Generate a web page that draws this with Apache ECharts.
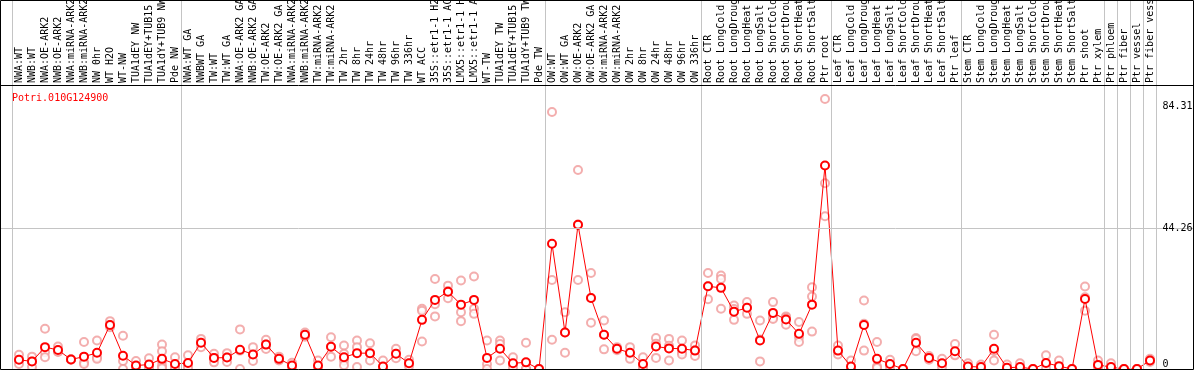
<!DOCTYPE html>
<html>
<head>
<meta charset="utf-8">
<script src="https://cdn.jsdelivr.net/npm/echarts@6/dist/echarts.min.js"></script>
<style>
html, body { margin: 0; padding: 0; background: #fff; }
#chart { width: 1194px; height: 370px; }
</style>
</head>
<body>
<div id="chart"></div>
<script>
// gene id shown top-left
var geneName = 'Potri.010G124900';

var categories = [
    'NWA:WT', 'NWB:WT', 'NWA:OE-ARK2', 'NWB:OE-ARK2', 'NWA:miRNA-ARK2', 'NWB:miRNA-ARK2',
    'NW 0hr', 'WT H2O', 'WT-NW', 'TUA1dEY NW', 'TUA1dEY+TUB15 NW', 'TUA1dY+TUB9 NW', 'Pde NW',
    'NWA:WT GA', 'NWBWT GA', 'TW:WT', 'TW:WT GA', 'NWA:OE-ARK2 GA', 'NWB:OE-ARK2 GA',
    'TW:OE-ARK2', 'TW:OE-ARK2 GA', 'NWA:miRNA-ARK2', 'NWB:miRNA-ARK2', 'TW:miRNA-ARK2',
    'TW:miRNA-ARK2', 'TW 2hr', 'TW 8hr', 'TW 24hr', 'TW 48hr', 'TW 96hr', 'TW 336hr',
    'WT ACC', '35S::etr1-1 H2O', '35S::etr1-1 ACC', 'LMX5::etr1-1 H2O', 'LMX5::etr1-1 ACC',
    'WT-TW', 'TUA1dEY TW', 'TUA1dEY+TUB15 TW', 'TUA1dY+TUB9 TW', 'Pde TW',
    'OW:WT', 'OW:WT GA', 'OW:OE-ARK2', 'OW:OE-ARK2 GA', 'OW:miRNA-ARK2', 'OW:miRNA-ARK2',
    'OW 2hr', 'OW 8hr', 'OW 24hr', 'OW 48hr', 'OW 96hr', 'OW 336hr',
    'Root CTR', 'Root LongCold', 'Root LongDrought', 'Root LongHeat', 'Root LongSalt',
    'Root ShortCold', 'Root ShortDrought', 'Root ShortHeat', 'Root ShortSalt', 'Ptr root',
    'Leaf CTR', 'Leaf LongCold', 'Leaf LongDrought', 'Leaf LongHeat', 'Leaf LongSalt',
    'Leaf ShortCold', 'Leaf ShortDrought', 'Leaf ShortHeat', 'Leaf ShortSalt', 'Ptr leaf',
    'Stem CTR', 'Stem LongCold', 'Stem LongDrought', 'Stem LongHeat', 'Stem LongSalt',
    'Stem ShortCold', 'Stem ShortDrought', 'Stem ShortHeat', 'Stem ShortSalt', 'Ptr shoot',
    'Ptr xylem', 'Ptr phloem', 'Ptr fiber', 'Ptr vessel', 'Ptr fiber vessel'
];

var meanValues = [
    2.9, 2.4, 6.9, 6.0, 3.0, 3.9, 5.1, 13.9, 4.2, 1.1, 1.4, 3.2, 1.6,
    1.9, 8.3, 3.5, 3.6, 6.1, 4.6, 7.7, 3.2, 1.1, 10.8, 1.1, 7.0, 3.7, 5.0, 5.0, 0.8,
    4.8, 1.8, 15.5, 21.8, 24.4, 20.3, 21.8, 3.5, 6.4, 1.8, 2.1, 0,
    39.5, 11.5, 45.5, 22.4, 10.8, 6.4, 5.1, 1.6, 7.1, 6.5, 6.4, 5.8,
    26.1, 25.6, 18.1, 19.3, 9.0, 17.7, 15.6, 11.1, 20.3, 64.2,
    5.8, 0.8, 13.9, 3.2, 1.6, 0, 8.3, 3.5, 1.8, 5.6,
    0.8, 0.6, 6.4, 0.4, 0.6, 0, 1.9, 0.9, 0, 22.1,
    1.3, 0.6, 0, 0, 2.7
];

var replicateValues = [
    [4.5, 2.9, 1.6], [3.9, 2.4, 0.6], [12.7, 5.3, 3.7], [7.1, 5.5, 5.4], [3.1, 3.0, 2.9],
    [8.5, 2.1, 1.6], [9.0, 3.7, 3.2], [15.1, 13.9, 13.2], [10.5, 2.5, 0], [2.5, 0.6, 0.2],
    [3.4, 0.6, 0.3], [7.7, 5.6, 2.5, 1.0, 0.2], [3.7, 0.8, 0.4],
    [4.3, 1.2, 0.2], [9.5, 8.3, 6.9], [4.8, 3.5, 2.1], [5.0, 3.6, 2.2], [12.5, 5.8, 0],
    [6.9, 4.5, 2.5], [9.2, 7.7, 6.3], [3.9, 3.0, 2.7], [2.0, 0.9, 0.4], [11.5, 10.8, 10.2],
    [2.7, 0.6, 0], [10.0, 7.0, 3.9], [7.4, 4.8, 2.6, 1.2], [9.0, 6.9, 0.6], [8.1, 5.0, 2.7],
    [2.7, 0.3, 0], [6.4, 4.8, 3.4], [2.9, 1.7, 0.9], [19.0, 18.4, 8.7], [28.4, 20.4, 16.6],
    [26.3, 24.6, 22.3], [27.9, 17.9, 15.1], [29.2, 19.0, 17.4], [9.0, 1.5, 0], [9.0, 7.9, 2.7],
    [3.7, 1.4, 0.4], [8.3, 0, 0, 0], [0, 0, 0],
    [81.1, 28.1, 9.2], [17.9, 11.5, 5.1], [62.8, 45.6, 28.1], [30.3, 22.4, 14.6],
    [15.3, 10.8, 6.2], [6.9, 6.4, 5.9], [6.9, 4.8, 3.2], [3.7, 0.8, 0.3], [9.8, 8.0, 3.5],
    [9.5, 7.3, 2.7], [9.0, 5.3, 4.6], [7.4, 5.9, 4.1],
    [30.3, 26.1, 22.0], [29.5, 28.4, 19.0], [20.0, 18.9, 15.5], [21.1, 19.3, 17.4],
    [15.3, 9.3, 2.4], [21.1, 16.2, 15.8], [16.6, 16.2, 14.0], [14.8, 10.0, 8.5],
    [25.8, 22.9, 11.8], [85.2, 58.6, 48.2],
    [7.4, 5.6, 4.6], [2.7, 0, 0], [21.6, 14.3, 5.8], [8.5, 0.8, 0.3], [2.9, 1.4, 0.5],
    [0, 0, 0], [9.8, 9.5, 5.6], [4.1, 3.5, 2.9], [3.2, 1.6, 0.6], [7.9, 4.6, 4.3],
    [1.8, 0.6, 0], [1.4, 0.4, 0], [10.8, 5.7, 2.7], [1.4, 0, 0], [1.8, 0, 0],
    [0, 0, 0], [4.3, 1.4, 0], [2.7, 0, 0], [0, 0, 0], [26.0, 22.6, 18.4],
    [2.7, 1.0, 0.3], [1.8, 0, 0], [0, 0, 0], [0, 0, 0], [3.2, 2.7, 2.2]
];

// category index where each sample group starts (plus the end)
var groupBreaks = [0, 13, 41, 53, 63, 73, 84, 85, 86, 87, 88];

var yTickValues = [0, 44.26, 84.31];
var yMax = 89.6;

var monoFont = 'DejaVu Sans Mono';

var replicatePoints = [];
replicateValues.forEach(function (vals, i) {
    vals.forEach(function (v) {
        replicatePoints.push([i, v]);
    });
});

var dom = document.getElementById('chart');
var myChart = echarts.init(dom, null, { renderer: 'canvas' });

var gridBase = { outerBoundsMode: 'none', containLabel: false };

var option = {
    backgroundColor: '#FFFFFF',
    animation: false,
    title: {
        text: geneName,
        left: 7,
        top: 88,
        textStyle: {
            color: '#ff0000',
            fontFamily: monoFont,
            fontSize: 10,
            fontWeight: 'normal'
        }
    },
    grid: [
        Object.assign({ left: 12.5, width: 1144, top: 85, height: 284 }, gridBase),
        Object.assign({ left: 12.5, width: 1144, top: 0, height: 369 }, gridBase),
        Object.assign({ left: 0, width: 1194, top: 85, height: 284 }, gridBase)
    ],
    xAxis: [{
            type: 'category',
            gridIndex: 0,
            position: 'top',
            data: categories,
            boundaryGap: true,
            axisLine: { show: false },
            axisTick: { show: false },
            splitLine: { show: false },
            axisLabel: {
                interval: 0,
                rotate: 90,
                margin: 2,
                color: '#000',
                fontFamily: monoFont,
                fontSize: 10
            }
        },
        {
            type: 'value',
            gridIndex: 1,
            min: 0,
            max: categories.length,
            show: false
        },
        {
            type: 'value',
            gridIndex: 2,
            min: 0,
            max: 1,
            show: false
        }
    ],
    yAxis: [{
            type: 'value',
            gridIndex: 0,
            min: 0,
            max: yMax,
            show: false
        },
        {
            type: 'value',
            gridIndex: 1,
            min: 0,
            max: 1,
            show: false
        },
        {
            type: 'value',
            gridIndex: 2,
            min: 0,
            max: yMax,
            show: false
        }
    ],
    graphic: [{
            type: 'rect',
            z: 100,
            shape: { x: 0.5, y: 0.5, width: 1193, height: 369 },
            style: { fill: 'none', stroke: '#000', lineWidth: 1 }
        },
        {
            type: 'line',
            z: 100,
            shape: { x1: 0, y1: 85.5, x2: 1194, y2: 85.5 },
            style: { stroke: '#000', lineWidth: 1 }
        }
    ],
    series: [{
            // group separators
            type: 'line',
            xAxisIndex: 1,
            yAxisIndex: 1,
            data: [],
            z: 1,
            markLine: {
                silent: true,
                symbol: 'none',
                animation: false,
                label: { show: false },
                lineStyle: { color: '#c4c4c4', width: 1, type: 'solid' },
                data: groupBreaks.map(function (b) { return { xAxis: b }; })
            }
        },
        {
            // middle reference line across the full width
            type: 'line',
            xAxisIndex: 2,
            yAxisIndex: 2,
            data: [],
            z: 1,
            markLine: {
                silent: true,
                symbol: 'none',
                animation: false,
                label: { show: false },
                lineStyle: { color: '#c4c4c4', width: 1, type: 'solid' },
                data: [{ yAxis: yTickValues[1] }]
            }
        },
        {
            name: 'replicates',
            type: 'scatter',
            xAxisIndex: 0,
            yAxisIndex: 0,
            symbol: 'emptyCircle',
            symbolSize: 8,
            z: 2,
            itemStyle: { color: '#f09a9a', borderWidth: 1.2 },
            data: replicatePoints
        },
        {
            name: 'mean',
            type: 'line',
            xAxisIndex: 0,
            yAxisIndex: 0,
            symbol: 'emptyCircle',
            symbolSize: 8,
            z: 3,
            itemStyle: { color: '#ff0000', borderWidth: 1.5 },
            lineStyle: { color: '#ff0000', width: 1 },
            data: meanValues,
            markLine: {
                silent: true,
                symbol: 'none',
                animation: false,
                data: yTickValues.map(function (v, k) {
                    var vAligns = ['bottom', 'middle', 'top'];
                    return {
                        yAxis: v,
                        lineStyle: { color: 'rgba(0,0,0,0)', width: 1 },
                        label: {
                            show: true,
                            position: 'end',
                            distance: 6,
                            formatter: String(v),
                            color: '#000',
                            fontFamily: monoFont,
                            fontSize: 10,
                            verticalAlign: vAligns[k]
                        }
                    };
                })
            }
        }
    ]
};

if (option && typeof option === 'object') {
    myChart.setOption(option);
}
</script>
</body>
</html>
